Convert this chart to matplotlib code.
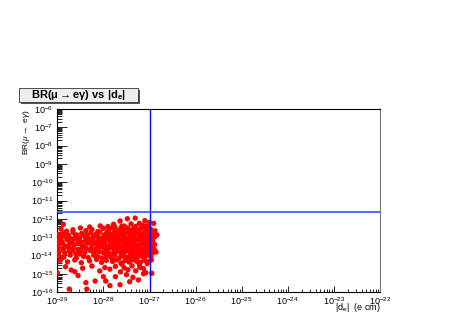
import numpy as np
import matplotlib
matplotlib.use("Agg")
import matplotlib.pyplot as plt
from matplotlib.patches import Rectangle
from matplotlib.ticker import LogLocator, LogFormatterMathtext, NullFormatter

plt.rcParams.update({
    "font.family": ["Liberation Sans", "DejaVu Sans"],
    "mathtext.fontset": "custom",
    "mathtext.rm": "Liberation Sans",
    "mathtext.it": "Liberation Sans:italic",
    "mathtext.bf": "Liberation Sans:bold",
})

# experimental bounds
DE_BOUND = 1.05e-27     # |d_e| (e cm)
BR_BOUND = 2.4e-12      # BR(mu -> e gamma)

# scan points as log10 values
log_de = [
    # top fringe
    -27.48, -27.31, -27.64, -27.22, -27.10, -27.03, -26.91, -28.07, -28.87, -27.90,
    -27.78, -27.40, -27.15, -27.55, -28.30, -27.00,
    # ~ -12.55
    -28.92, -28.80, -28.66, -28.50, -28.38, -28.25, -28.12, -28.00, -27.88, -27.80,
    -27.71, -27.63, -27.56, -27.48, -27.41, -27.34, -27.27, -27.20, -27.13, -27.06,
    -26.98, -26.88,
    # ~ -12.8
    -28.97, -28.88, -28.76, -28.66, -28.58, -28.47, -28.36, -28.27, -28.16, -28.08,
    -27.99, -27.91, -27.83, -27.76, -27.69, -27.61, -27.54, -27.47, -27.40, -27.33,
    -27.26, -27.19, -27.12, -27.06, -26.99, -26.92, -26.84,
    # ~ -13.0
    -28.93, -28.82, -28.71, -28.61, -28.52, -28.41, -28.31, -28.22, -28.12, -28.03,
    -27.95, -27.87, -27.79, -27.72, -27.65, -27.57, -27.50, -27.43, -27.36, -27.29,
    -27.22, -27.15, -27.09, -27.02, -26.95, -26.88,
    # ~ -13.2
    -28.99, -28.90, -28.79, -28.68, -28.57, -28.49, -28.39, -28.29, -28.19, -28.10,
    -28.01, -27.93, -27.85, -27.77, -27.70, -27.63, -27.56, -27.49, -27.42, -27.35,
    -27.28, -27.21, -27.14, -27.07, -27.00, -26.93,
    # ~ -13.4
    -28.95, -28.85, -28.73, -28.63, -28.54, -28.44, -28.34, -28.24, -28.14, -28.05,
    -27.97, -27.89, -27.81, -27.74, -27.67, -27.59, -27.52, -27.45, -27.38, -27.31,
    -27.24, -27.17, -27.10, -27.04, -26.97, -26.89,
    # ~ -13.6
    -28.98, -28.87, -28.77, -28.65, -28.55, -28.46, -28.37, -28.26, -28.17, -28.07,
    -27.98, -27.90, -27.82, -27.75, -27.67, -27.60, -27.53, -27.46, -27.39, -27.32,
    -27.25, -27.18, -27.11, -27.05, -26.98, -26.90,
    # ~ -13.8
    -28.96, -28.84, -28.74, -28.60, -28.50, -28.40, -28.28, -28.18, -28.09, -28.00,
    -27.92, -27.84, -27.77, -27.70, -27.62, -27.55, -27.48, -27.41, -27.34, -27.27,
    -27.20, -27.13, -27.07, -27.00, -26.94, -26.86,
    # ~ -14.05
    -28.97, -28.86, -28.72, -28.59, -28.43, -28.33, -28.21, -28.11, -28.02, -27.93,
    -27.84, -27.76, -27.66, -27.58, -27.50, -27.42, -27.35, -27.27, -27.19, -27.11,
    -27.04, -26.97,
    # ~ -14.3
    -28.94, -28.78, -28.62, -28.48, -28.30, -28.15, -28.04, -27.94, -27.80, -27.71,
    -27.62, -27.53, -27.44, -27.36, -27.28, -27.20, -27.12, -27.05, -26.96,
    # ~ -14.75
    -28.82, -28.70, -28.62, -28.45, -28.25, -28.08, -27.97, -27.86, -27.74, -27.63,
    -27.55, -27.47, -27.38, -27.30, -27.21, -27.13, -27.08, -26.95,
    # outliers below
    -29.00, -28.74, -28.36, -28.38, -28.18, -28.00, -27.74, -27.86, -27.64, -27.43,
    -27.36, -27.24, -27.50, -27.13, -28.55, -27.95,
    # extra fill in the dense right core
    -27.92, -27.75, -27.60, -27.45, -27.30, -27.17, -27.05,
    -27.98, -27.84, -27.69, -27.54, -27.39, -27.25, -27.10, -26.98,
    -27.90, -27.73, -27.57, -27.41, -27.26, -27.12,
    -27.80, -27.60, -27.40, -27.22, -27.05,
    # extra fill on the left
    -28.90, -28.75, -28.58, -28.42, -28.28, -28.13,
    -28.86, -28.69, -28.52, -28.35, -28.20, -28.05,
]
log_br = [
    -12.00, -11.96, -12.12, -12.25, -12.10, -12.40, -12.25, -12.39, -12.30, -12.42,
    -12.30, -12.28, -12.35, -12.40, -12.45, -12.20,
    -12.55, -12.68, -12.60, -12.50, -12.65, -12.58, -12.70, -12.52, -12.62, -12.48,
    -12.66, -12.55, -12.60, -12.50, -12.64, -12.53, -12.68, -12.57, -12.49, -12.62,
    -12.55, -12.66,
    -12.85, -12.78, -12.90, -12.74, -12.88, -12.80, -12.93, -12.76, -12.84, -12.72,
    -12.89, -12.79, -12.86, -12.73, -12.91, -12.77, -12.83, -12.75, -12.88, -12.80,
    -12.74, -12.86, -12.78, -12.92, -12.81, -12.76, -12.88,
    -13.02, -12.96, -13.08, -12.98, -13.05, -12.95, -13.10, -13.00, -12.97, -13.06,
    -12.99, -13.04, -12.95, -13.09, -13.01, -12.97, -13.07, -13.00, -12.96, -13.05,
    -12.98, -13.03, -12.95, -13.08, -13.00, -12.97,
    -13.18, -13.24, -13.15, -13.22, -13.13, -13.27, -13.19, -13.14, -13.25, -13.17,
    -13.21, -13.12, -13.26, -13.16, -13.23, -13.14, -13.20, -13.27, -13.15, -13.22,
    -13.13, -13.19, -13.25, -13.16, -13.21, -13.18,
    -13.38, -13.45, -13.34, -13.42, -13.36, -13.47, -13.33, -13.40, -13.44, -13.35,
    -13.41, -13.48, -13.37, -13.43, -13.34, -13.46, -13.39, -13.35, -13.44, -13.38,
    -13.47, -13.36, -13.42, -13.33, -13.45, -13.40,
    -13.58, -13.65, -13.55, -13.62, -13.68, -13.56, -13.63, -13.59, -13.67, -13.54,
    -13.61, -13.66, -13.57, -13.64, -13.53, -13.69, -13.60, -13.56, -13.65, -13.58,
    -13.62, -13.67, -13.55, -13.63, -13.59, -13.66,
    -13.80, -13.86, -13.76, -13.90, -13.78, -13.84, -13.74, -13.88, -13.79, -13.85,
    -13.75, -13.91, -13.81, -13.77, -13.87, -13.82, -13.76, -13.89, -13.80, -13.84,
    -13.78, -13.86, -13.75, -13.83, -13.88, -13.81,
    -14.02, -14.10, -13.98, -14.15, -14.05, -14.12, -13.99, -14.08, -14.14, -14.01,
    -14.09, -13.97, -14.13, -14.04, -14.11, -14.00, -14.07, -14.15, -14.03, -14.10,
    -13.98, -14.06,
    -14.28, -14.35, -14.25, -14.40, -14.30, -14.22, -14.38, -14.27, -14.33, -14.24,
    -14.41, -14.29, -14.36, -14.23, -14.32, -14.39, -14.26, -14.34, -14.25,
    -14.62, -14.80, -14.89, -14.70, -14.58, -14.85, -14.66, -14.75, -14.60, -14.90,
    -14.68, -14.78, -14.57, -14.84, -14.65, -14.72, -14.95, -14.98,
    -14.94, -15.84, -15.84, -15.49, -15.40, -15.16, -15.16, -15.65, -15.60, -15.44,
    -15.20, -15.34, -15.05, -15.00, -15.10, -15.40,
    -12.72, -12.45, -12.40, -12.58, -12.42, -12.48, -12.38,
    -13.30, -13.12, -13.50, -13.28, -13.52, -13.10, -13.30, -13.50,
    -13.93, -13.72, -13.95, -13.73, -13.92, -13.70,
    -14.20, -14.48, -14.18, -14.50, -14.45,
    -13.30, -13.52, -13.10, -13.50, -13.30, -13.70,
    -12.95, -13.75, -13.92, -12.90, -13.95, -13.50,
]

de = 10.0 ** np.array(log_de)
br = 10.0 ** np.array(log_br)

fig = plt.figure(figsize=(4.63, 3.27), dpi=100)
ax = fig.add_axes([0.1238, 0.107, 0.6969, 0.5597])

ax.scatter(de, br, s=15, color="#ff0000", edgecolors="none", zorder=3)
ax.axvline(DE_BOUND, color="#0000ff", lw=1.0, zorder=4)
ax.axhline(BR_BOUND, color="#3050ff", lw=1.2, zorder=4)

ax.set_xscale("log"); ax.set_yscale("log")
ax.set_xlim(1e-29, 1e-22); ax.set_ylim(1e-16, 1e-6)

for a in (ax.xaxis, ax.yaxis):
    a.set_major_locator(LogLocator(base=10, numticks=20))
    a.set_minor_locator(LogLocator(base=10, subs=np.arange(2, 10), numticks=100))
    a.set_major_formatter(LogFormatterMathtext())
    a.set_minor_formatter(NullFormatter())
ax.tick_params(axis="both", which="both", direction="in", top=False, right=False,
               labelsize=6.5, width=0.6)
ax.tick_params(axis="y", which="major", length=7, pad=3)
ax.tick_params(axis="y", which="minor", length=3.5)
ax.tick_params(axis="x", which="major", length=4, pad=2.5)
ax.tick_params(axis="x", which="minor", length=2)
for s in ax.spines.values():
    s.set_linewidth(0.8)
ax.spines["right"].set_color("#777777")

ax.set_xlabel(r"|d$_{\rm e}$|  (e cm)", fontsize=6.5, loc="right")
ax.xaxis.set_label_coords(1.0, -0.05)
ax.set_ylabel(r"BR($\mu\rightarrow$ e$\gamma$)", fontsize=6, loc="top")
ax.yaxis.set_label_coords(-0.078, 1.0)

# ROOT-style title box with shadow
bx, by, bw, bh = 19 / 463, 1 - 102 / 327, 119 / 463, 14 / 327
fig.patches.append(Rectangle((bx + 2 / 463, by - 2 / 327), bw, bh, transform=fig.transFigure,
                             facecolor="#555555", edgecolor="none", zorder=1))
fig.patches.append(Rectangle((bx, by), bw, bh, transform=fig.transFigure,
                             facecolor="#eeeeee", edgecolor="#333333", lw=0.6, zorder=2))
fig.text(bx + bw / 2, by + bh / 2, r"BR($\mathbf{\mu\rightarrow}$e$\mathbf{\gamma}$) vs |d$_{\mathbf{e}}$|",
         ha="center", va="center", fontsize=8, fontweight="bold", zorder=3)

fig.savefig("out.png", dpi=100)
